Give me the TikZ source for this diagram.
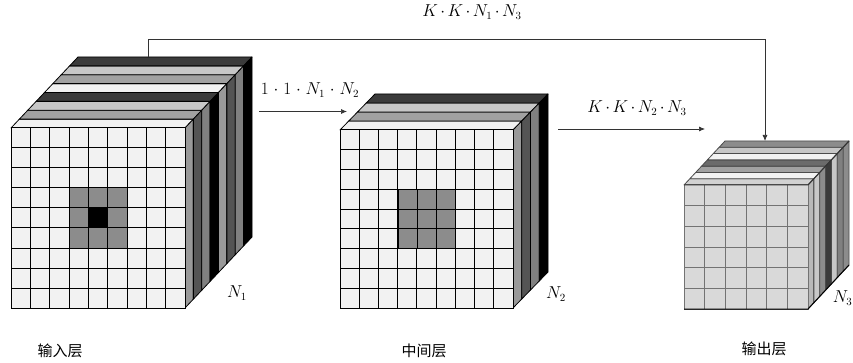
\documentclass[tikz,border=0pt]{standalone}
\usepackage{fontspec}
\usetikzlibrary{arrows.meta}
\newfontfamily\cjkfont{Noto Sans CJK SC}
\newcommand{\mycube}[9]{%
% #1 x, #2 y (front top-left), #3 w, #4 h, #5 dx, #6 dy, #7 cols/rows, #8 top list, #9 side list
\foreach \c [count=\i] in #8 {
  \pgfmathsetmacro{\fa}{(\i-1)/\stripes}
  \pgfmathsetmacro{\fb}{\i/\stripes}
  \filldraw[stripe,fill=\c] ({#1+#5*\fa},{#2-#6*\fa}) -- ({#1+#3+#5*\fa},{#2-#6*\fa}) -- ({#1+#3+#5*\fb},{#2-#6*\fb}) -- ({#1+#5*\fb},{#2-#6*\fb}) -- cycle;
}
\foreach \c [count=\i] in #9 {
  \pgfmathsetmacro{\fa}{(\i-1)/\stripes}
  \pgfmathsetmacro{\fb}{\i/\stripes}
  \filldraw[stripe,fill=\c] ({#1+#3+#5*\fa},{#2-#6*\fa}) -- ({#1+#3+#5*\fb},{#2-#6*\fb}) -- ({#1+#3+#5*\fb},{#2+#4-#6*\fb}) -- ({#1+#3+#5*\fa},{#2+#4-#6*\fa}) -- cycle;
}
\filldraw[gridline,fill=\facefill] (#1,#2) rectangle ({#1+#3},{#2+#4});
\pgfmathsetmacro{\cw}{#3/#7}
\pgfmathsetmacro{\ch}{#4/#7}
\pgfmathtruncatemacro{\lastn}{#7-1}
\foreach \k in {1,...,\lastn} {
  \draw[gridline] ({#1+\k*\cw},#2) -- ({#1+\k*\cw},{#2+#4});
  \draw[gridline] (#1,{#2+\k*\ch}) -- ({#1+#3},{#2+\k*\ch});
}
}
\newcommand{\tdot}{\mskip2.5mu{\cdot}\mskip2.5mu}
\newcommand{\wdot}{\mskip5mu{\cdot}\mskip5mu}
\definecolor{facea}{gray}{0.95}
\definecolor{facec}{gray}{0.85}
\definecolor{gw}{gray}{0.95}
\definecolor{gl}{gray}{0.78}
\definecolor{gm}{gray}{0.63}
\definecolor{gs}{gray}{0.55}
\definecolor{gd}{gray}{0.23}
\definecolor{gk}{gray}{0.0}
\definecolor{gn}{gray}{0.33}
\definecolor{gr}{gray}{0.5}
\definecolor{gh}{gray}{0.6}
\definecolor{gb}{gray}{0.72}
\definecolor{gi}{gray}{0.42}
\definecolor{gline}{gray}{0.45}
\tikzset{
  stripe/.style={draw=black,line width=0.8pt,line join=round},
  gridline/.style={draw=black,line width=1pt},
  wire/.style={draw=black!80,line width=0.7pt,-{Latex[length=6pt,width=5pt]}},
  tlabel/.style={inner sep=0pt,font=\fontsize{16}{18}\selectfont},
  caption/.style={inner sep=0pt,font=\cjkfont\fontsize{15}{17}\selectfont}
}
\begin{document}
\begin{tikzpicture}[x=1pt,y=-1pt]
\useasboundingbox (0,0) rectangle (853,363);
\fill[white] (0,0) rectangle (853,363);
% input cube
\def\stripes{8}\def\facefill{facea}
\mycube{11}{128}{174}{180}{67}{71}{9}{{gw,gm,gl,gd,gw,gm,gl,gd}}{{gh,gn,gr,gk,gh,gn,gr,gk}}
\fill[gs] (69,188) rectangle (127,248);
\fill[black] (88.3,208) rectangle (107.7,228);
\foreach \k in {69.3,88.3,107.7,127}{\draw[gridline] (\k,188) -- (\k,248);}
\foreach \k in {188,208,228,248}{\draw[gridline] (69.3,\k) -- (127,\k);}
% hidden cube
\def\stripes{4}\def\facefill{facea}
\mycube{340}{130}{173}{178}{35}{36}{9}{{gw,gm,gl,gd}}{{gh,gn,gr,gk}}
\fill[gs] (398,189.3) rectangle (455.7,248.7);
\foreach \k in {398,417.2,436.5,455.7}{\draw[gridline] (\k,189.3) -- (\k,248.7);}
\foreach \k in {189.3,209.1,228.9,248.7}{\draw[gridline] (398,\k) -- (455.7,\k);}
% output cube
\def\stripes{7}\def\facefill{facec}
\tikzset{stripe/.append style={draw=black!70},gridline/.append style={draw=gline}}
\mycube{684}{185}{124}{124}{41}{44}{6}{{gl!80!white,gw,gm,gi,gw,gl,gs}}{{gb,gl,gs,gd,gl,gr,gs}}
\draw[black,line width=1pt] (684,309) -- (808,309) -- (849,265);
\draw[black!80,line width=1pt] (684,185) -- (808,185) -- (849,141);
% connector anchors
\coordinate (loopS) at (148,57);
\coordinate (loopA) at (148,39);
\coordinate (loopB) at (765,39);
\coordinate (loopE) at (765,141);
\coordinate (a1) at (259,111.5);
\coordinate (b1) at (347,111.5);
\coordinate (a2) at (558,129);
\coordinate (b2) at (705,129);
\draw[wire] (loopS) -- (loopA) -- (loopB) -- (loopE);
\draw[wire] (a1) -- (b1);
\draw[wire] (a2) -- (b2);
% labels
\node[tlabel] (l1) at (472,12) {$K\tdot K\tdot N_1\tdot N_3$};
\node[tlabel] (l2) at (310,90) {$1\wdot 1\wdot N_1\wdot N_2$};
\node[tlabel] (l3) at (637,108) {$K\tdot K\tdot N_2\tdot N_3$};
\node[tlabel] (n1) at (237,293) {$N_1$};
\node[tlabel] (n2) at (556,294) {$N_2$};
\node[tlabel,anchor=east] (n3) at (852.5,298) {$N_3$};
\node[caption] (c1) at (60,351) {输入层};
\node[caption] (c2) at (424,351) {中间层};
\node[caption] (c3) at (764,349) {输出层};
\end{tikzpicture}
\end{document}
